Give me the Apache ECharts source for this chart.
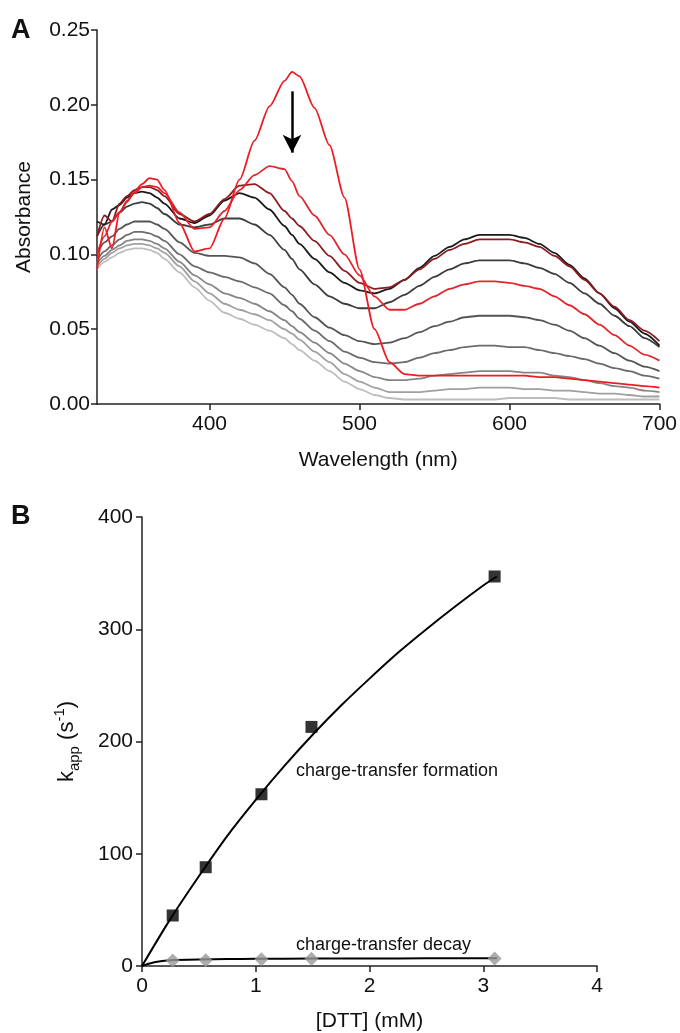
<!DOCTYPE html>
<html>
<head>
<meta charset="utf-8">
<script src="https://cdn.jsdelivr.net/npm/echarts@6.0.0/dist/echarts.min.js"></script>
<style>
  html, body { margin: 0; padding: 0; background: #fff; }
  #chart { width: 680px; height: 1033px; }
</style>
</head>
<body>
<div id="chart"></div>
<script>
// ---- panel A : absorbance spectra (nm) ----
var wavelengths = [325,330,335,340,345,350,355,360,365,370,380,390,400,410,420,430,440,450,455,
                   460,470,480,490,500,510,520,530,540,550,560,570,580,590,600,610,620,630,640,650,660,670,680,690,700];

// first trace (oxidised, bright red) down to the last one (light gray)
var spec1 = [.090,.118,.104,.128,.135,.142,.147,.151,.150,.143, .121,.102,.104,.124,.150,.176,.199,.216, .222,
             .219,.198,.173,.138,.090,.050,.028,.020,.019,.019,.019,.019,.019,.019,.019,.019,.018,.018,.017,.016,.015,.014,.013,.012,.011];
var spec2 = [.100,.112,.122,.128,.136,.141,.145,.146,.145,.141, .128,.117,.118,.129,.143,.153,.159,.157, .149,
             .139,.126,.113,.100,.086,.072,.063,.063,.067,.072,.077,.080,.082,.082,.081,.079,.077,.072,.066,.060,.053,.046,.039,.033,.029];
var spec3 = [.112,.126,.122,.134,.139,.143,.145,.145,.143,.139, .127,.122,.127,.137,.146,.147,.141,.129, .124,
             .119,.109,.099,.089,.081,.077,.078,.083,.090,.097,.103,.107,.110,.110,.110,.108,.105,.099,.092,.083,.074,.065,.056,.049,.042];
var spec4 = [.122,.120,.130,.133,.138,.141,.142,.141,.138,.134, .124,.121,.126,.136,.141,.138,.130,.119, .113,
             .107,.097,.088,.081,.076,.074,.077,.083,.091,.099,.105,.110,.113,.113,.113,.111,.107,.101,.093,.084,.074,.064,.055,.047,.039];
var spec5 = [.112,.120,.122,.128,.132,.134,.135,.134,.131,.127, .120,.118,.120,.124,.124,.120,.113,.103, .097,
             .090,.080,.072,.067,.064,.064,.068,.073,.079,.085,.090,.094,.096,.096,.096,.094,.091,.087,.081,.074,.067,.059,.052,.044,.038];
var spec6 = [.100,.108,.112,.117,.120,.122,.122,.122,.120,.117, .108,.101,.099,.099,.098,.094,.087,.078, .073,
             .067,.058,.051,.046,.042,.040,.041,.044,.048,.052,.055,.058,.059,.059,.059,.058,.056,.053,.049,.044,.039,.034,.029,.025,.022];
var spec7 = [.096,.102,.106,.110,.113,.115,.115,.114,.112,.109, .100,.092,.088,.085,.082,.078,.074,.066, .062,
             .057,.049,.042,.035,.031,.028,.027,.028,.031,.034,.036,.038,.039,.039,.038,.038,.036,.034,.032,.030,.027,.024,.022,.019,.017];
var spec8 = [.094,.099,.103,.106,.109,.110,.110,.109,.107,.104, .095,.086,.080,.074,.071,.067,.062,.056, .052,
             .048,.041,.034,.027,.022,.018,.016,.016,.017,.019,.020,.021,.022,.022,.022,.021,.021,.019,.018,.016,.014,.012,.011,.009,.008];
var spec9 = [.092,.097,.101,.104,.106,.107,.107,.106,.104,.101, .092,.082,.074,.067,.063,.060,.056,.050, .047,
             .043,.035,.028,.020,.015,.011,.008,.008,.008,.009,.010,.010,.011,.011,.011,.010,.010,.009,.009,.008,.007,.007,.006,.005,.005];
var spec10 = [.090,.095,.098,.101,.103,.104,.104,.103,.101,.097, .088,.078,.069,.061,.057,.053,.049,.044, .040,
              .036,.029,.022,.015,.010,.006,.004,.003,.003,.003,.003,.003,.003,.003,.004,.004,.004,.004,.003,.003,.003,.003,.003,.003,.003];

var nmTicks = [400, 500, 600, 700];

// ---- panel B : kapp vs [DTT] ----
var dtt = [0.27, 0.56, 1.05, 1.49, 3.1];
var kForm = [45, 88, 153, 213, 347];
var kDecay = [4.8, 5.2, 6.1, 6.5, 6.6];
// fitted curves
var fitFormX = [0, 0.25, 0.5, 0.75, 1, 1.25, 1.5, 1.75, 2, 2.25, 2.5, 2.75, 3, 3.12];
var fitFormY = [0, 42, 80, 116, 148, 178, 206, 232, 256, 279, 300, 320, 339, 347];
var fitDecayX = [0, 0.05, 0.1, 0.15, 0.2, 0.3, 0.5, 0.75, 1, 1.5, 2, 2.5, 3.12];
var fitDecayY = [0, 1.8, 3.2, 4.1, 4.7, 5.3, 5.9, 6.2, 6.4, 6.6, 6.7, 6.8, 6.8];

var spectra = [spec10, spec9, spec8, spec7, spec6, spec5, spec4, spec3, spec2, spec1];
var specColors = ['#bdbdbd', '#a0a0a0', '#858585', '#6b6b6b', '#555555', '#3d3d3d', '#1a1a1a', '#8c1c20', '#e3262d', '#ed1c24'];

function zip(xs, ys) {
    var out = [];
    for (var i = 0; i < xs.length; i++) out.push([xs[i], ys[i]]);
    return out;
}

var FONT = 'Liberation Sans';
var axisLineStyle = { color: '#222', width: 1.5 };

var series = [];
spectra.forEach(function (s, i) {
    series.push({
        type: 'line',
        xAxisIndex: 0,
        yAxisIndex: 0,
        data: zip(wavelengths, s),
        showSymbol: false,
        smooth: 0.25,
        smoothMonotone: 'x',
        lineStyle: { color: specColors[i], width: 1.8 },
        z: 2 + i
    });
});

// arrow showing the decrease at 455 nm
series.push({
    type: 'line',
    xAxisIndex: 0,
    yAxisIndex: 0,
    data: [],
    markLine: {
        silent: true,
        symbol: ['none', 'arrow'],
        symbolSize: [14, 18],
        label: { show: false },
        lineStyle: { color: '#000', width: 2.5, type: 'solid' },
        data: [[{ coord: [455, 0.209] }, { coord: [455, 0.168] }]]
    },
    z: 20
});

// panel B
series.push({
    type: 'line', xAxisIndex: 1, yAxisIndex: 1,
    data: zip(fitFormX, fitFormY),
    showSymbol: false, smooth: 0.3,
    lineStyle: { color: '#000', width: 2 }
});
series.push({
    type: 'line', xAxisIndex: 1, yAxisIndex: 1,
    data: zip(fitDecayX, fitDecayY),
    showSymbol: false, smooth: 0.4,
    lineStyle: { color: '#000', width: 2 }
});
series.push({
    type: 'scatter', xAxisIndex: 1, yAxisIndex: 1,
    data: zip(dtt, kForm),
    symbol: 'rect', symbolSize: 12,
    itemStyle: { color: '#000' },
    z: 5
});
series.push({
    type: 'scatter', xAxisIndex: 1, yAxisIndex: 1,
    data: zip(dtt, kDecay),
    symbol: 'diamond', symbolSize: [14, 14],
    itemStyle: { color: '#999999' },
    z: 5
});

var chart = echarts.init(document.getElementById('chart'), null, { renderer: 'canvas' });

chart.setOption({
    animation: false,
    backgroundColor: '#fff',
    textStyle: { fontFamily: FONT },
    grid: [
        { left: 97, top: 30, width: 564, height: 374 },
        { left: 142, top: 517, width: 455, height: 450 }
    ],
    xAxis: [
        {
            gridIndex: 0, type: 'value', min: 325, max: 700,
            name: 'Wavelength (nm)', nameLocation: 'middle', nameGap: 46,
            nameTextStyle: { fontSize: 21, color: '#111', fontFamily: FONT },
            axisLine: { show: true, lineStyle: axisLineStyle },
            axisTick: { show: true, length: 6, lineStyle: axisLineStyle, customValues: nmTicks },
            axisLabel: { fontSize: 21, color: '#111', margin: 10, fontFamily: FONT, customValues: nmTicks },
            splitLine: { show: false }
        },
        {
            gridIndex: 1, type: 'value', min: 0, max: 4, interval: 1,
            name: '[DTT] (mM)', nameLocation: 'middle', nameGap: 45,
            nameTextStyle: { fontSize: 21, color: '#111', fontFamily: FONT },
            axisLine: { show: true, onZero: false, lineStyle: axisLineStyle },
            axisTick: { show: true, length: 6, lineStyle: axisLineStyle },
            axisLabel: { fontSize: 21, color: '#111', margin: 10, fontFamily: FONT },
            splitLine: { show: false }
        }
    ],
    yAxis: [
        {
            gridIndex: 0, type: 'value', min: 0, max: 0.25, interval: 0.05,
            name: 'Absorbance', nameLocation: 'middle', nameGap: 62,
            nameTextStyle: { fontSize: 21, color: '#111', fontFamily: FONT },
            axisLine: { show: true, lineStyle: axisLineStyle },
            axisTick: { show: true, length: 6, lineStyle: axisLineStyle },
            axisLabel: {
                fontSize: 21, color: '#111', margin: 7, fontFamily: FONT,
                formatter: function (v) { return v.toFixed(2); }
            },
            splitLine: { show: false }
        },
        {
            gridIndex: 1, type: 'value', min: 0, max: 400, interval: 100,
            name: '{k|k}{sub|app}{n| (s}{sup|-1}{n|)}', nameLocation: 'middle', nameGap: 60,
            nameTextStyle: {
                color: '#111', fontFamily: FONT,
                rich: {
                    k: { fontSize: 22, lineHeight: 30, verticalAlign: 'middle', fontFamily: FONT, color: '#111' },
                    n: { fontSize: 22, lineHeight: 30, verticalAlign: 'middle', fontFamily: FONT, color: '#111' },
                    sub: { fontSize: 15, lineHeight: 15, verticalAlign: 'bottom', fontFamily: FONT, color: '#111' },
                    sup: { fontSize: 15, lineHeight: 15, verticalAlign: 'top', fontFamily: FONT, color: '#111' }
                }
            },
            axisLine: { show: true, onZero: false, lineStyle: axisLineStyle },
            axisTick: { show: true, length: 6, lineStyle: axisLineStyle },
            axisLabel: { fontSize: 21, color: '#111', margin: 9, fontFamily: FONT },
            splitLine: { show: false }
        }
    ],
    graphic: [
        { type: 'text', left: 11, top: 17, style: { text: 'A', font: 'bold 27px "Liberation Sans"', fill: '#111' } },
        { type: 'text', left: 11, top: 503, style: { text: 'B', font: 'bold 27px "Liberation Sans"', fill: '#111' } },
        { type: 'text', left: 296, top: 762, style: { text: 'charge-transfer formation', font: '18px "Liberation Sans"', fill: '#111' } },
        { type: 'text', left: 296, top: 936, style: { text: 'charge-transfer decay', font: '18px "Liberation Sans"', fill: '#111' } }
    ],
    series: series
});
</script>
</body>
</html>
